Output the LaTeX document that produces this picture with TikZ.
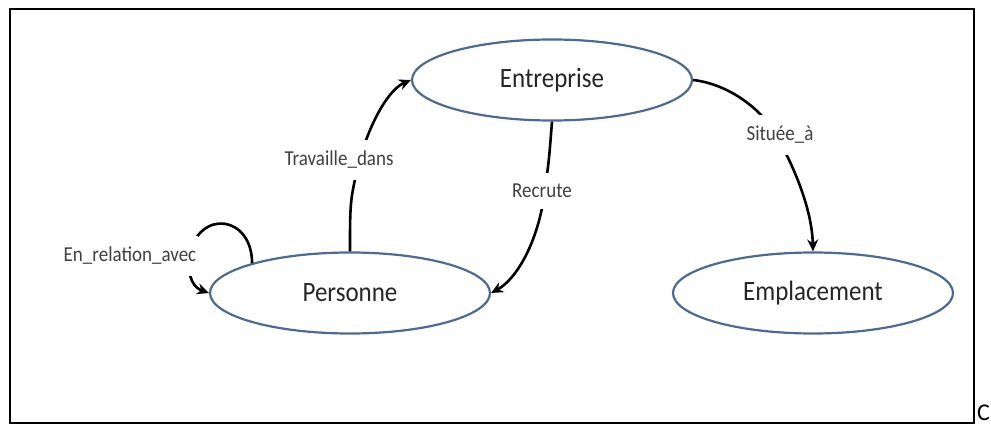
\documentclass[tikz,border=0pt]{standalone}
\usepackage{fontspec}
\setmainfont{Carlito}
\usetikzlibrary{arrows.meta,shapes.geometric}
\definecolor{ellborder}{RGB}{79,106,145}
\newcommand{\tallt}[1]{\scalebox{1}[1.12]{#1}}
\tikzset{
  ent/.style={ellipse, draw=ellborder, line width=2.2pt, fill=white,
    minimum width=280pt, minimum height=81pt, inner sep=0pt,
    font=\fontsize{25}{30}\selectfont, text=black!85},
  lbl/.style={fill=white, inner xsep=2pt, inner ysep=11pt,
    font=\fontsize{19}{23}\selectfont, text=black!75},
  rel/.style={line width=2.6pt, -{Stealth[length=12pt,width=11pt,inset=4pt]}},
}
\begin{document}
\begin{tikzpicture}[x=1pt,y=-1pt]
\useasboundingbox (0,0) rectangle (991,425);
\draw[line width=2pt] (10,9) rectangle (974,423);
\node[ent] (E) at (552,80) {\tallt{Entreprise}};
\node[ent] (P) at (350,293) {\tallt{Personne}};
\node[ent] (M) at (813,293) {\tallt{Emplacement}};
\coordinate (tl) at (360,158);
\coordinate (rl) at (545,190);
\coordinate (sl) at (775,133);
\coordinate (lc) at (189,255);
% Travaille_dans
\draw[rel] (P.north) .. controls (350,200) .. (tl) .. controls (374,112) and (392,88) .. (E.west);
% Recrute
\draw[rel] (E.south) .. controls (549,160) .. (rl) .. controls (538,245) and (515,280) .. (P.east);
% Située_à
\draw[rel] (E.east) .. controls (728,84) and (760,108) .. (sl) .. controls (795,168) and (812,210) .. (M.north);
% En_relation_avec
\draw[rel] (P.163) .. controls (252,216) and (200,208) .. (lc) .. controls (187,280) and (195,288) .. (P.west);
\node[lbl] (lt) at (339,160) {\tallt{Travaille\_dans}};
\node[lbl] (lr) at (542,191) {\tallt{Recrute}};
\node[lbl] (ls) at (780,135) {\tallt{Située\_à}};
\node[lbl] (le) at (130,256) {\tallt{En\_relation\_avec}};
\node[anchor=base west, inner sep=0pt, font=\fontsize{24}{28}\selectfont] (c) at (977,420) {C};
\end{tikzpicture}
\end{document}
